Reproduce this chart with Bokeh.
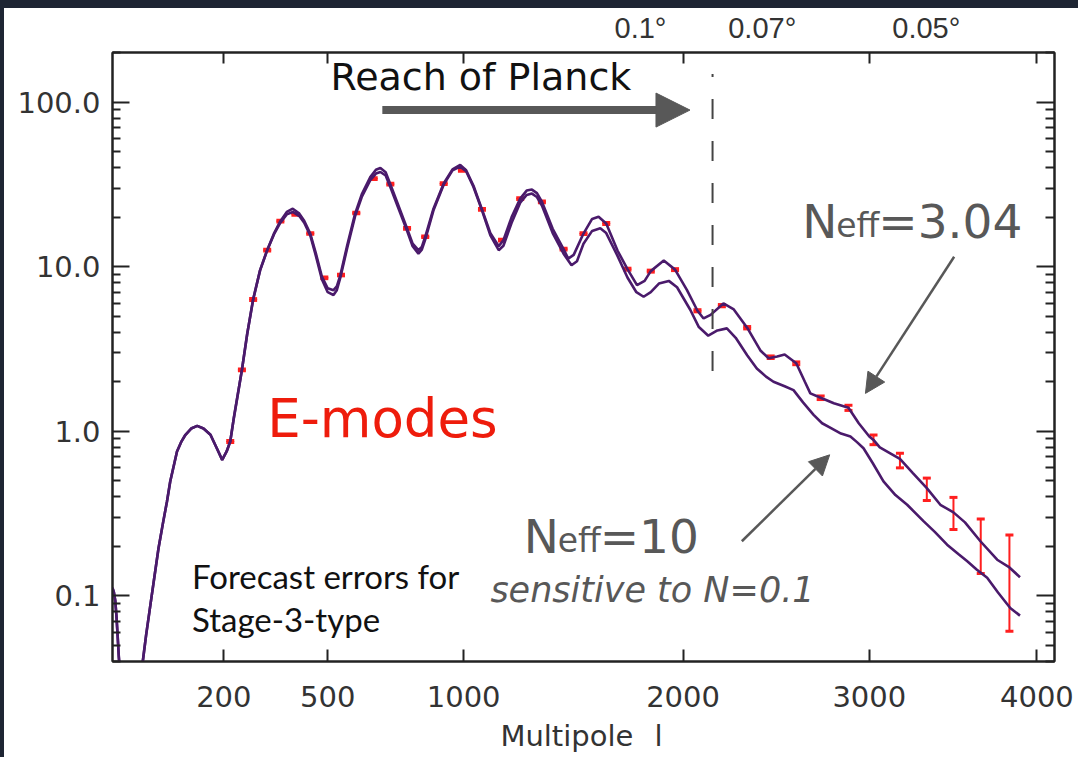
import numpy as np
from bokeh.plotting import figure
from bokeh.models import (Range1d, FixedTicker, LinearAxis, LogAxis, CustomJSTickFormatter,
                          Whisker, TeeHead, ColumnDataSource, Label, Arrow, NormalHead, Div)
from bokeh.layouts import column, row
from bokeh.embed import file_html
from bokeh.resources import INLINE

# ---------------- data ----------------
# multipole l and D_l^EE for N_eff = 3.04
ELL_A = [3, 4, 5, 6, 7, 8, 9, 11, 15, 20, 25, 30, 34, 37, 42, 48, 55, 62, 70, 77, 83, 96, 105, 113,
         125, 138, 152, 168, 183, 196, 207, 216, 225, 246, 260, 276, 295, 315, 335, 353, 372, 390,
         410, 425, 444, 462, 481, 500, 519, 530, 542, 565, 592, 615, 645, 665, 681, 700, 717, 745,
         779, 800, 822, 835, 848, 880, 920, 955, 986, 1010, 1040, 1075, 1110, 1145, 1165, 1200,
         1237, 1265, 1288, 1310, 1332, 1380, 1429, 1450, 1475, 1520, 1560, 1590, 1626, 1680, 1727,
         1773, 1810, 1840, 1904, 1960, 2020, 2073, 2104, 2140, 2206, 2260, 2330, 2400, 2444, 2490,
         2530, 2593, 2640, 2670, 2727, 2800, 2882, 2940, 3000, 3024, 3060, 3120, 3176, 3250, 3333,
         3413, 3491, 3560, 3653, 3755, 3830, 3895]
DL_A = [0.112, 0.105, 0.094, 0.075, 0.057, 0.043, 0.035, 0.022, 0.012, 0.009, 0.012, 0.022, 0.032,
        0.040, 0.058, 0.085, 0.13, 0.195, 0.28, 0.375, 0.496, 0.755, 0.87, 0.953, 1.04, 1.08, 1.04,
        0.953, 0.79, 0.671, 0.755, 0.867, 1.2, 2.36, 3.9, 6.32, 9.5, 12.6, 16.0, 18.9, 21.5, 22.5,
        21.0, 19.0, 15.9, 12.0, 8.7, 7.4, 7.2, 7.6, 8.9, 13.5, 21.0, 27.5, 35.0, 38.8, 39.8, 37.5,
        31.7, 24.0, 17.1, 13.8, 12.6, 13.2, 15.2, 22.5, 32.0, 39.0, 41.5, 38.5, 31.0, 22.3, 16.0,
        13.3, 14.5, 20.0, 25.9, 29.0, 29.4, 28.0, 24.8, 17.0, 12.8, 11.2, 11.8, 15.9, 19.5, 20.1,
        18.3, 12.5, 9.66, 7.73, 8.2, 9.4, 10.9, 9.6, 7.2, 5.4, 4.85, 5.1, 5.98, 5.5, 4.26, 3.1,
        2.78, 2.85, 2.93, 2.59, 2.0, 1.7, 1.6, 1.48, 1.39, 1.12, 0.93, 0.887, 0.80, 0.736, 0.68,
        0.56, 0.452, 0.358, 0.322, 0.28, 0.215, 0.166, 0.149, 0.13]

# multipole l and D_l^EE for N_eff = 10
ELL_B = [3, 4, 5, 6, 7, 8, 9, 11, 15, 20, 25, 30, 34, 37, 42, 48, 55, 62, 70, 77, 83, 96, 105, 113,
         125, 138, 152, 168, 183, 196, 207, 216, 225, 246, 260, 276, 295, 315, 335, 353, 372, 390,
         410, 425, 444, 462, 481, 500, 519, 530, 542, 565, 592, 615, 645, 665, 681, 700, 717, 745,
         779, 800, 822, 835, 848, 880, 920, 955, 986, 1010, 1040, 1075, 1110, 1145, 1165, 1200,
         1237, 1265, 1288, 1310, 1332, 1380, 1429, 1465, 1490, 1520, 1560, 1598, 1626, 1680, 1727,
         1770, 1805, 1840, 1880, 1929, 1970, 2037, 2080, 2128, 2175, 2224, 2270, 2330, 2381, 2430,
         2470, 2530, 2578, 2630, 2688, 2735, 2782, 2840, 2893, 2930, 2967, 3020, 3081, 3150, 3218,
         3315, 3380, 3453, 3520, 3572, 3630, 3694, 3760, 3835, 3895]
DL_B = [0.112, 0.105, 0.094, 0.075, 0.057, 0.043, 0.035, 0.022, 0.012, 0.009, 0.012, 0.022, 0.032,
        0.040, 0.058, 0.085, 0.13, 0.195, 0.28, 0.375, 0.496, 0.755, 0.87, 0.953, 1.04, 1.08, 1.04,
        0.953, 0.79, 0.671, 0.755, 0.867, 1.2, 2.36, 3.9, 6.32, 9.5, 12.6, 15.8, 18.5, 20.8, 21.5,
        20.3, 18.5, 15.5, 11.6, 8.4, 7.0, 6.73, 7.2, 8.6, 13.0, 20.3, 26.5, 33.5, 36.8, 37.6, 35.8,
        30.5, 23.0, 16.5, 13.3, 12.0, 12.7, 14.6, 22.0, 31.5, 38.5, 40.5, 38.0, 30.5, 22.0, 15.5,
        12.6, 13.4, 18.5, 24.5, 27.3, 27.8, 26.5, 23.5, 16.0, 12.0, 10.2, 10.8, 13.8, 16.5, 17.1,
        16.0, 11.6, 8.6, 7.0, 6.57, 7.0, 7.9, 8.2, 7.5, 5.46, 4.3, 3.81, 4.1, 4.22, 3.7, 2.9, 2.41,
        2.15, 2.0, 1.88, 1.78, 1.5, 1.26, 1.12, 1.05, 0.97, 0.93, 0.86, 0.79, 0.64, 0.497, 0.41,
        0.358, 0.284, 0.245, 0.205, 0.18, 0.163, 0.145, 0.129, 0.105, 0.0846, 0.076]

# forecast band powers with 1-sigma errors (Stage-3-type)
ERR_ELL = [216, 246, 276, 315, 353, 398, 444, 489, 544, 596, 657, 717, 779, 848, 920, 993, 1075,
           1159, 1237, 1332, 1429, 1520, 1626, 1727, 1840, 1960, 2073, 2198, 2330, 2455, 2593, 2727,
           2882, 3024, 3176, 3333, 3491, 3655, 3830]
ERR_DL = [0.867, 2.36, 6.32, 12.6, 18.9, 20.8, 15.9, 8.56, 8.9, 21.2, 34.3, 31.7, 17.1, 15.2, 32.0,
          38.5, 22.3, 14.5, 25.9, 24.8, 12.8, 15.9, 18.3, 9.66, 9.4, 9.6, 5.4, 5.8, 4.26, 2.82, 2.59,
          1.6, 1.39, 0.89, 0.668, 0.45, 0.325, 0.215, 0.148]
ERR_SIG = [0.012, 0.03, 0.08, 0.15, 0.22, 0.25, 0.18, 0.1, 0.1, 0.25, 0.4, 0.38, 0.2, 0.18, 0.38,
           0.45, 0.27, 0.18, 0.32, 0.3, 0.16, 0.2, 0.23, 0.13, 0.13, 0.13, 0.08, 0.09, 0.07, 0.05,
           0.05, 0.04, 0.05, 0.06, 0.068, 0.07, 0.072, 0.078, 0.087]

X_TICKS = [200, 500, 1000, 2000, 3000, 4000]
Y_TICKS = [0.1, 1, 10, 100]
ANGLE_LABELS = ["0.1°", "0.07°", "0.05°"]
ANGLE_ELL = [1790, 2410, 3330]
XTITLE_PARTS = ["Multipole", "l"]
XTITLE_ELL = [1444, 1878]
PLANCK_LMAX = 2150

P = 0.69  # power-law warp used by the multipole axis


def warp(l):
    return np.asarray(l, dtype=float) ** P


PURPLE = "#4a1a6b"
RED = "#ff1f1f"
GREY = "#585858"
BG = "#1e2533"

p = figure(width=1074, height=749, x_range=Range1d(float(warp(3)), float(warp(4110))),
           y_range=Range1d(0.04, 200), y_axis_type="log", output_backend="svg",
           toolbar_location=None, x_axis_location=None, y_axis_location=None,
           min_border_left=108, min_border_right=24, min_border_top=43, min_border_bottom=96,
           background_fill_color="white", border_fill_color="white")
p.grid.visible = False
p.outline_line_color = "#222222"
p.outline_line_width = 2

xt = FixedTicker(ticks=[float(v) for v in warp(X_TICKS)])
yt = FixedTicker(ticks=Y_TICKS, minor_ticks=[m * 10.0 ** e for e in range(-2, 3) for m in range(2, 10)])
fmt_x = CustomJSTickFormatter(args=dict(p=P), code="return String(Math.round(Math.pow(tick, 1/p)));")
fmt_y = CustomJSTickFormatter(code="return tick.toFixed(1);")
blank = CustomJSTickFormatter(code="return '';")

lookup_code = """
let best = 0;
for (let i = 0; i < pos.length; i++) {
  if (Math.abs(pos[i] - tick) < Math.abs(pos[best] - tick)) best = i;
}
return names[best];
"""

common = dict(axis_line_color="#222222", axis_line_width=2, major_tick_line_color="#222222",
              major_tick_line_width=2, minor_tick_line_color="#222222", minor_tick_line_width=2,
              major_tick_out=0, minor_tick_out=0)

bottom = LinearAxis(ticker=xt, formatter=fmt_x, major_tick_in=12, minor_tick_in=0,
                    major_label_text_font="DejaVu Sans", major_label_text_font_size="29px",
                    major_label_text_color="#333333", major_label_standoff=24, **common)
p.add_layout(bottom, "below")

# axis title written as a second row of labels under the multipole numbers
title_pos = [float(v) for v in warp(XTITLE_ELL)]
title_axis = LinearAxis(ticker=FixedTicker(ticks=title_pos),
                        formatter=CustomJSTickFormatter(args=dict(pos=title_pos, names=XTITLE_PARTS),
                                                        code=lookup_code),
                        axis_line_color=None, major_tick_line_color=None, minor_tick_line_color=None,
                        major_tick_in=0, major_tick_out=0, minor_tick_in=0, minor_tick_out=0,
                        major_label_text_font="DejaVu Sans", major_label_text_font_size="29px",
                        major_label_text_color="#333333", major_label_standoff=9)
p.add_layout(title_axis, "below")

# top axis: tick marks at the multipole ticks, labels give the angular scale
angle_pos = [float(v) for v in warp(ANGLE_ELL)]
top = LinearAxis(ticker=FixedTicker(ticks=angle_pos, minor_ticks=[float(v) for v in warp(X_TICKS)]),
                 formatter=CustomJSTickFormatter(args=dict(pos=angle_pos, names=ANGLE_LABELS),
                                                 code=lookup_code),
                 axis_line_color="#222222", axis_line_width=2,
                 major_tick_line_color=None, major_tick_in=0, major_tick_out=0,
                 minor_tick_line_color="#222222", minor_tick_line_width=2,
                 minor_tick_in=11, minor_tick_out=0,
                 major_label_text_font="Liberation Sans", major_label_text_font_size="29px",
                 major_label_text_color="#333333", major_label_standoff=9)
p.add_layout(top, "above")

left = LogAxis(ticker=yt, formatter=fmt_y, major_tick_in=17, minor_tick_in=8,
               major_label_text_font="DejaVu Sans", major_label_text_font_size="29px",
               major_label_text_color="#333333", major_label_standoff=12, **common)
right = LogAxis(ticker=yt, formatter=blank, major_tick_in=18, minor_tick_in=9,
                major_label_text_font_size="1px", major_label_standoff=0, **common)
p.add_layout(left, "left")
p.add_layout(right, "right")

# spectra
src_a = ColumnDataSource(dict(u=warp(ELL_A), d=DL_A))
src_b = ColumnDataSource(dict(u=warp(ELL_B), d=DL_B))
p.line("u", "d", source=src_b, line_color=PURPLE, line_width=2.6)
p.line("u", "d", source=src_a, line_color=PURPLE, line_width=2.6)

# error bars
dl = np.array(ERR_DL)
sg = np.array(ERR_SIG)
src_e = ColumnDataSource(dict(u=warp(ERR_ELL), lo=dl - sg, hi=dl + sg))
p.add_layout(Whisker(base="u", lower="lo", upper="hi", source=src_e, dimension="height",
                     line_color=RED, line_width=2,
                     upper_head=TeeHead(size=8, line_color=RED, line_width=3),
                     lower_head=TeeHead(size=8, line_color=RED, line_width=3)))

# Planck reach marker
up = float(warp(PLANCK_LMAX))
p.add_layout(Arrow(end=None, x_start=up, y_start=148, x_end=up, y_end=2.24,
                   line_color="#444444", line_width=2, line_dash="20 22", line_dash_offset=17))

# arrow under "Reach of Planck"
p.add_layout(Arrow(end=None, x_start=float(warp(688)), y_start=89.4, x_end=float(warp(1870)),
                   y_end=89.4, line_color=GREY, line_width=8))
p.add_layout(Arrow(end=NormalHead(size=34, fill_color=GREY, line_color=GREY, line_width=1),
                   x_start=float(warp(1860)), y_start=89.4, x_end=float(warp(2035)), y_end=89.4,
                   line_color=GREY, line_width=1, line_alpha=0))

# N_eff arrows
p.add_layout(Arrow(end=NormalHead(size=20, fill_color=GREY, line_color=GREY, line_width=1),
                   x_start=float(warp(3495)), y_start=11.5, x_end=float(warp(2978)), y_end=1.70,
                   line_color=GREY, line_width=2.5))
p.add_layout(Arrow(end=NormalHead(size=20, fill_color=GREY, line_color=GREY, line_width=1),
                   x_start=float(warp(2302)), y_start=0.215, x_end=float(warp(2777)), y_end=0.72,
                   line_color=GREY, line_width=2.5))


def lab(text, l, d, size, color="#111111", font="DejaVu Sans", style="normal", align="left",
        xoff=0):
    p.add_layout(Label(x=float(warp(l)), y=d, text=text, text_font=font, text_font_size=size,
                       text_color=color, text_font_style=style, text_align=align,
                       text_baseline="alphabetic", x_offset=xoff))


lab("Reach of Planck", 509, 141.6, "38px")
lab("E-modes", 315, 1.191, "53px", color="#ee1c0c")
lab("Forecast errors for", 126.7, 0.1327, "33px", font="Lato")
lab("Stage-3-type", 126.7, 0.0725, "33px", font="Lato")

for anchor_l, d_big, d_sub, tail in [(2626, 18.9, 17.78, "=3.04"), (1252, 0.2301, 0.2164, "=10")]:
    lab("N", anchor_l, d_big, "47px", color=GREY)
    lab("eff", anchor_l, d_sub, "33px", color=GREY, xoff=34)
    lab(tail, anchor_l, d_big, "47px", color=GREY, xoff=76)

lab("sensitive to N=0.1", 1110, 0.1086, "35px", color=GREY, style="italic")

top_band = Div(width=1078, height=8, margin=0, styles={"background-color": BG})
left_band = Div(width=4, height=749, margin=0, styles={"background-color": BG})
layout = column(top_band, row(left_band, p, spacing=0, margin=0), spacing=0, margin=0)

open("out.html", "w").write(file_html(layout, INLINE))
